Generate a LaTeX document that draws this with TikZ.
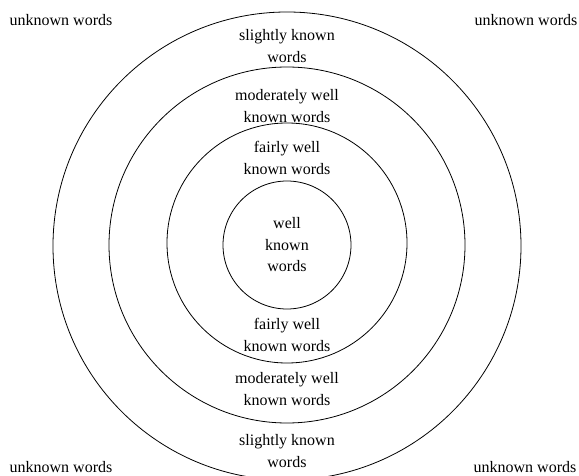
\documentclass[tikz,border=0pt]{standalone}
\usepackage{fontspec}
\setmainfont{Liberation Serif}
\usepackage{tikz}
\usetikzlibrary{positioning}

\begin{document}
\begin{tikzpicture}[x=1pt, y=-1pt, semithick]

\tikzstyle{ring}=[
    circle,
    draw=black,
    line width=0.8pt,
    inner sep=0pt
]
\tikzstyle{label}=[
    align=center,
    font=\fontsize{16}{21.5}\selectfont,
    inner sep=0pt
]

\useasboundingbox (0,0) rectangle (579,476);

% rings, from the centre outwards
\node[ring, minimum size=128pt] (R_0) at (287,245) {};
\node[ring, minimum size=240pt] (R_1) at (287,243) {};
\node[ring, minimum size=356pt] (R_2) at (287,245) {};
\node[ring, minimum size=468pt] (R_3) at (287,246) {};

% corners
\node[label] (U_tl) at (61,20) {unknown words};
\node[label] (U_tr) at (526,20) {unknown words};
\node[label] (U_bl) at (61,467) {unknown words};
\node[label] (U_br) at (525,467) {unknown words};

% upper half
\node[label] (S_top) at (287,46) {slightly known\\words};
\node[label] (M_top) at (287,106) {moderately well\\known words};
\node[label] (F_top) at (287,158) {fairly well\\known words};

% centre
\node[label] (W) at (R_0) {well\\known\\words};

% lower half
\node[label] (F_bot) at (287,335) {fairly well\\known words};
\node[label] (M_bot) at (287,389) {moderately well\\known words};
\node[label] (S_bot) at (287,451) {slightly known\\words};

\end{tikzpicture}
\end{document}
